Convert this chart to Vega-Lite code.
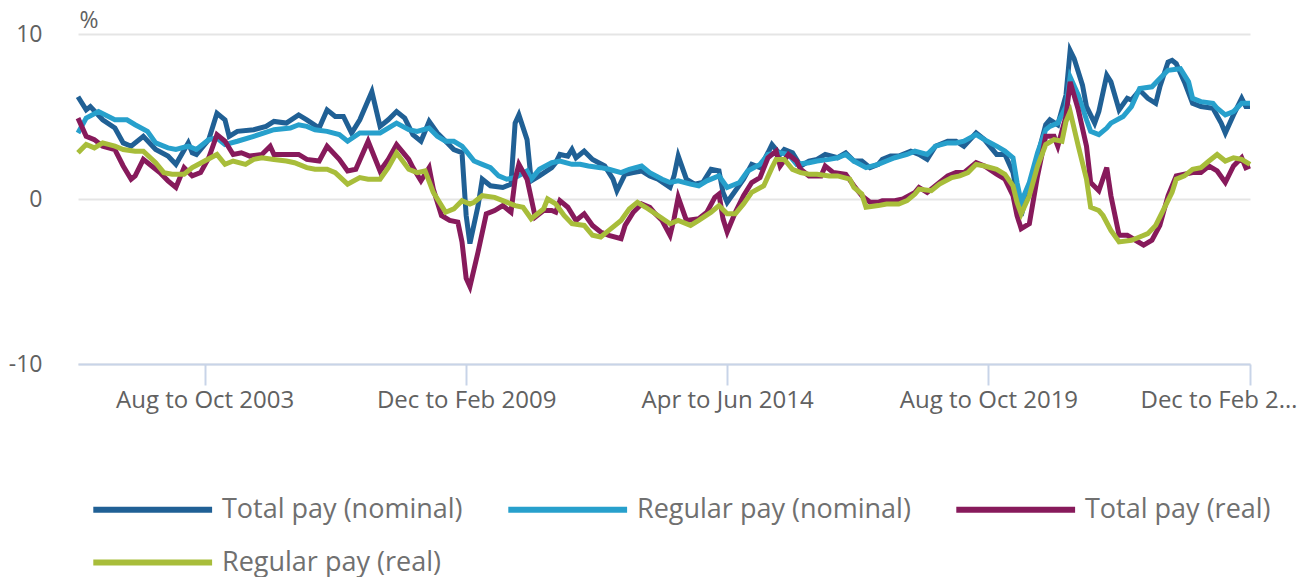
{
  "$schema": "https://vega.github.io/schema/vega-lite/v6.json",
  "autosize": {"type": "none"},
  "width": 1172,
  "height": 330,
  "padding": {"left": 78, "top": 34, "right": 57, "bottom": 213},
  "background": "white",
  "config": {"font": "Open Sans", "view": {"stroke": null}},
  "datasets": {
    "total_nominal": [{"d":"2001-03","v":6.2},{"d":"2001-05","v":5.4},{"d":"2001-06","v":5.6},{"d":"2001-09","v":4.8},{"d":"2001-12","v":4.3},{"d":"2002-02","v":3.4},{"d":"2002-04","v":3.2},{"d":"2002-07","v":3.8},{"d":"2002-10","v":3.0},{"d":"2003-01","v":2.6},{"d":"2003-03","v":2.1},{"d":"2003-06","v":3.4},{"d":"2003-07","v":2.8},{"d":"2003-08","v":2.7},{"d":"2003-11","v":3.6},{"d":"2004-01","v":5.2},{"d":"2004-03","v":4.8},{"d":"2004-04","v":3.8},{"d":"2004-06","v":4.1},{"d":"2004-10","v":4.2},{"d":"2005-01","v":4.4},{"d":"2005-03","v":4.7},{"d":"2005-06","v":4.6},{"d":"2005-09","v":5.1},{"d":"2005-11","v":4.8},{"d":"2006-02","v":4.3},{"d":"2006-04","v":5.4},{"d":"2006-06","v":5.0},{"d":"2006-08","v":5.0},{"d":"2006-10","v":4.0},{"d":"2006-12","v":4.8},{"d":"2007-03","v":6.5},{"d":"2007-05","v":4.4},{"d":"2007-07","v":4.8},{"d":"2007-09","v":5.3},{"d":"2007-11","v":4.9},{"d":"2008-01","v":3.9},{"d":"2008-03","v":3.5},{"d":"2008-05","v":4.7},{"d":"2008-07","v":4.0},{"d":"2008-09","v":3.5},{"d":"2008-11","v":3.0},{"d":"2009-01","v":2.8},{"d":"2009-02","v":-1.0},{"d":"2009-03","v":-2.7},{"d":"2009-05","v":-0.4},{"d":"2009-06","v":1.2},{"d":"2009-08","v":0.8},{"d":"2009-11","v":0.7},{"d":"2010-01","v":0.9},{"d":"2010-02","v":4.6},{"d":"2010-03","v":5.1},{"d":"2010-05","v":3.6},{"d":"2010-06","v":1.1},{"d":"2010-08","v":1.4},{"d":"2010-11","v":1.9},{"d":"2010-12","v":2.2},{"d":"2011-01","v":2.7},{"d":"2011-03","v":2.6},{"d":"2011-04","v":3.0},{"d":"2011-05","v":2.5},{"d":"2011-07","v":2.9},{"d":"2011-09","v":2.4},{"d":"2011-12","v":2.0},{"d":"2012-02","v":1.2},{"d":"2012-03","v":0.5},{"d":"2012-05","v":1.5},{"d":"2012-07","v":1.6},{"d":"2012-09","v":1.7},{"d":"2012-11","v":1.4},{"d":"2013-01","v":1.2},{"d":"2013-04","v":0.7},{"d":"2013-05","v":1.4},{"d":"2013-06","v":2.6},{"d":"2013-08","v":1.2},{"d":"2013-10","v":0.9},{"d":"2013-12","v":1.0},{"d":"2014-02","v":1.8},{"d":"2014-04","v":1.7},{"d":"2014-05","v":0.4},{"d":"2014-06","v":-0.2},{"d":"2014-08","v":0.5},{"d":"2014-10","v":1.2},{"d":"2014-12","v":2.1},{"d":"2015-02","v":1.9},{"d":"2015-04","v":2.8},{"d":"2015-05","v":3.3},{"d":"2015-07","v":2.7},{"d":"2015-08","v":3.0},{"d":"2015-10","v":2.8},{"d":"2015-12","v":2.0},{"d":"2016-02","v":2.3},{"d":"2016-04","v":2.4},{"d":"2016-06","v":2.7},{"d":"2016-09","v":2.5},{"d":"2016-11","v":2.8},{"d":"2017-01","v":2.3},{"d":"2017-03","v":2.3},{"d":"2017-05","v":1.9},{"d":"2017-07","v":2.1},{"d":"2017-08","v":2.4},{"d":"2017-10","v":2.6},{"d":"2017-12","v":2.6},{"d":"2018-03","v":2.9},{"d":"2018-05","v":2.7},{"d":"2018-07","v":2.4},{"d":"2018-09","v":3.2},{"d":"2018-12","v":3.5},{"d":"2019-02","v":3.5},{"d":"2019-04","v":3.2},{"d":"2019-07","v":4.0},{"d":"2019-09","v":3.6},{"d":"2019-12","v":2.7},{"d":"2020-02","v":2.7},{"d":"2020-04","v":1.6},{"d":"2020-06","v":-1.0},{"d":"2020-08","v":0.8},{"d":"2020-10","v":2.6},{"d":"2020-12","v":4.5},{"d":"2021-01","v":4.8},{"d":"2021-03","v":4.5},{"d":"2021-05","v":6.3},{"d":"2021-06","v":9.0},{"d":"2021-07","v":8.5},{"d":"2021-09","v":6.9},{"d":"2021-10","v":5.6},{"d":"2021-12","v":4.6},{"d":"2022-01","v":5.3},{"d":"2022-03","v":7.5},{"d":"2022-04","v":7.1},{"d":"2022-06","v":5.4},{"d":"2022-08","v":6.1},{"d":"2022-09","v":6.0},{"d":"2022-11","v":6.6},{"d":"2023-01","v":6.1},{"d":"2023-03","v":5.8},{"d":"2023-04","v":6.8},{"d":"2023-06","v":8.3},{"d":"2023-07","v":8.4},{"d":"2023-08","v":8.2},{"d":"2023-10","v":7.1},{"d":"2023-12","v":5.8},{"d":"2024-02","v":5.6},{"d":"2024-05","v":5.5},{"d":"2024-07","v":4.6},{"d":"2024-08","v":4.0},{"d":"2024-10","v":5.1},{"d":"2024-12","v":6.1},{"d":"2025-01","v":5.6},{"d":"2025-02","v":5.6}],
    "regular_nominal": [{"d":"2001-03","v":4.0},{"d":"2001-05","v":4.9},{"d":"2001-08","v":5.3},{"d":"2001-12","v":4.8},{"d":"2002-03","v":4.8},{"d":"2002-05","v":4.5},{"d":"2002-08","v":4.1},{"d":"2002-10","v":3.4},{"d":"2003-01","v":3.1},{"d":"2003-03","v":3.0},{"d":"2003-06","v":3.2},{"d":"2003-08","v":3.0},{"d":"2003-11","v":3.6},{"d":"2004-01","v":3.7},{"d":"2004-03","v":3.3},{"d":"2004-06","v":3.5},{"d":"2004-10","v":3.8},{"d":"2005-03","v":4.2},{"d":"2005-07","v":4.3},{"d":"2005-09","v":4.5},{"d":"2005-11","v":4.4},{"d":"2006-01","v":4.2},{"d":"2006-04","v":4.1},{"d":"2006-07","v":3.9},{"d":"2006-09","v":3.5},{"d":"2006-12","v":4.0},{"d":"2007-02","v":4.0},{"d":"2007-05","v":4.0},{"d":"2007-07","v":4.3},{"d":"2007-09","v":4.6},{"d":"2007-12","v":4.2},{"d":"2008-02","v":4.1},{"d":"2008-05","v":4.3},{"d":"2008-07","v":3.8},{"d":"2008-09","v":3.5},{"d":"2008-11","v":3.5},{"d":"2009-01","v":3.2},{"d":"2009-02","v":2.9},{"d":"2009-04","v":2.3},{"d":"2009-06","v":2.1},{"d":"2009-08","v":1.9},{"d":"2009-10","v":1.4},{"d":"2009-12","v":1.2},{"d":"2010-02","v":1.3},{"d":"2010-05","v":1.7},{"d":"2010-06","v":1.2},{"d":"2010-08","v":1.8},{"d":"2010-11","v":2.2},{"d":"2011-01","v":2.3},{"d":"2011-04","v":2.1},{"d":"2011-06","v":2.1},{"d":"2011-08","v":2.0},{"d":"2011-11","v":1.9},{"d":"2012-01","v":1.8},{"d":"2012-04","v":1.6},{"d":"2012-06","v":1.8},{"d":"2012-09","v":2.0},{"d":"2012-11","v":1.6},{"d":"2013-02","v":1.2},{"d":"2013-04","v":1.0},{"d":"2013-06","v":1.1},{"d":"2013-09","v":0.9},{"d":"2013-11","v":0.8},{"d":"2014-01","v":1.1},{"d":"2014-04","v":1.4},{"d":"2014-06","v":0.7},{"d":"2014-09","v":1.0},{"d":"2014-11","v":1.7},{"d":"2015-02","v":2.1},{"d":"2015-04","v":2.7},{"d":"2015-07","v":2.8},{"d":"2015-09","v":2.7},{"d":"2015-11","v":2.1},{"d":"2016-02","v":2.2},{"d":"2016-04","v":2.3},{"d":"2016-07","v":2.4},{"d":"2016-09","v":2.5},{"d":"2016-11","v":2.7},{"d":"2017-01","v":2.3},{"d":"2017-04","v":1.9},{"d":"2017-07","v":2.1},{"d":"2017-09","v":2.3},{"d":"2017-11","v":2.5},{"d":"2018-02","v":2.7},{"d":"2018-04","v":2.9},{"d":"2018-07","v":2.7},{"d":"2018-09","v":3.2},{"d":"2018-12","v":3.4},{"d":"2019-02","v":3.4},{"d":"2019-04","v":3.5},{"d":"2019-07","v":3.9},{"d":"2019-09","v":3.6},{"d":"2019-12","v":3.2},{"d":"2020-02","v":2.9},{"d":"2020-04","v":2.5},{"d":"2020-05","v":1.0},{"d":"2020-06","v":-0.2},{"d":"2020-08","v":1.0},{"d":"2020-10","v":2.8},{"d":"2020-12","v":4.2},{"d":"2021-01","v":4.4},{"d":"2021-03","v":4.6},{"d":"2021-05","v":5.6},{"d":"2021-06","v":7.4},{"d":"2021-08","v":6.3},{"d":"2021-10","v":4.8},{"d":"2021-11","v":4.1},{"d":"2022-01","v":3.9},{"d":"2022-03","v":4.3},{"d":"2022-04","v":4.6},{"d":"2022-07","v":5.0},{"d":"2022-09","v":5.6},{"d":"2022-11","v":6.7},{"d":"2023-02","v":6.8},{"d":"2023-04","v":7.3},{"d":"2023-06","v":7.8},{"d":"2023-09","v":7.9},{"d":"2023-11","v":7.1},{"d":"2023-12","v":6.1},{"d":"2024-02","v":5.9},{"d":"2024-05","v":5.8},{"d":"2024-06","v":5.5},{"d":"2024-08","v":5.1},{"d":"2024-10","v":5.3},{"d":"2024-12","v":5.8},{"d":"2025-02","v":5.8}],
    "total_real": [{"d":"2001-03","v":4.9},{"d":"2001-05","v":3.8},{"d":"2001-07","v":3.6},{"d":"2001-09","v":3.2},{"d":"2001-12","v":3.0},{"d":"2002-02","v":2.0},{"d":"2002-04","v":1.2},{"d":"2002-05","v":1.4},{"d":"2002-07","v":2.4},{"d":"2002-09","v":2.0},{"d":"2002-11","v":1.6},{"d":"2003-01","v":1.1},{"d":"2003-03","v":0.7},{"d":"2003-05","v":1.9},{"d":"2003-07","v":1.4},{"d":"2003-09","v":1.6},{"d":"2003-11","v":2.5},{"d":"2004-01","v":3.9},{"d":"2004-03","v":3.5},{"d":"2004-05","v":2.7},{"d":"2004-07","v":2.8},{"d":"2004-09","v":2.6},{"d":"2004-12","v":2.7},{"d":"2005-02","v":3.2},{"d":"2005-03","v":2.7},{"d":"2005-05","v":2.7},{"d":"2005-07","v":2.7},{"d":"2005-09","v":2.7},{"d":"2005-11","v":2.4},{"d":"2006-02","v":2.3},{"d":"2006-04","v":3.2},{"d":"2006-07","v":2.4},{"d":"2006-09","v":1.7},{"d":"2006-11","v":1.8},{"d":"2007-02","v":3.5},{"d":"2007-05","v":1.7},{"d":"2007-07","v":2.4},{"d":"2007-09","v":3.3},{"d":"2007-12","v":2.4},{"d":"2008-01","v":1.9},{"d":"2008-03","v":1.1},{"d":"2008-05","v":1.9},{"d":"2008-06","v":0.6},{"d":"2008-08","v":-1.0},{"d":"2008-10","v":-1.3},{"d":"2008-12","v":-1.4},{"d":"2009-01","v":-2.6},{"d":"2009-02","v":-4.8},{"d":"2009-03","v":-5.3},{"d":"2009-05","v":-3.2},{"d":"2009-07","v":-0.9},{"d":"2009-09","v":-0.7},{"d":"2009-11","v":-0.4},{"d":"2010-01","v":-0.8},{"d":"2010-02","v":1.2},{"d":"2010-03","v":2.1},{"d":"2010-05","v":1.2},{"d":"2010-07","v":-1.1},{"d":"2010-09","v":-0.7},{"d":"2010-11","v":-0.7},{"d":"2010-12","v":-0.8},{"d":"2011-01","v":-0.1},{"d":"2011-03","v":-0.5},{"d":"2011-05","v":-1.3},{"d":"2011-07","v":-0.9},{"d":"2011-09","v":-1.6},{"d":"2011-11","v":-2.0},{"d":"2012-01","v":-2.2},{"d":"2012-04","v":-2.4},{"d":"2012-05","v":-1.6},{"d":"2012-07","v":-0.8},{"d":"2012-09","v":-0.3},{"d":"2012-11","v":-0.5},{"d":"2012-12","v":-0.8},{"d":"2013-02","v":-1.3},{"d":"2013-04","v":-2.2},{"d":"2013-05","v":-1.2},{"d":"2013-06","v":0.1},{"d":"2013-08","v":-1.3},{"d":"2013-11","v":-1.2},{"d":"2014-01","v":-0.8},{"d":"2014-03","v":0.1},{"d":"2014-04","v":0.3},{"d":"2014-05","v":-1.2},{"d":"2014-06","v":-2.0},{"d":"2014-08","v":-0.8},{"d":"2014-10","v":0.2},{"d":"2014-12","v":1.0},{"d":"2015-02","v":1.3},{"d":"2015-04","v":2.5},{"d":"2015-06","v":2.9},{"d":"2015-07","v":2.0},{"d":"2015-09","v":2.7},{"d":"2015-11","v":2.3},{"d":"2015-12","v":1.8},{"d":"2016-02","v":1.4},{"d":"2016-05","v":1.4},{"d":"2016-06","v":2.0},{"d":"2016-08","v":1.6},{"d":"2016-11","v":1.5},{"d":"2017-01","v":0.8},{"d":"2017-03","v":0.2},{"d":"2017-05","v":-0.2},{"d":"2017-07","v":-0.2},{"d":"2017-08","v":-0.1},{"d":"2017-11","v":-0.1},{"d":"2018-01","v":0.0},{"d":"2018-04","v":0.4},{"d":"2018-05","v":0.7},{"d":"2018-07","v":0.4},{"d":"2018-10","v":1.0},{"d":"2018-12","v":1.4},{"d":"2019-02","v":1.6},{"d":"2019-04","v":1.6},{"d":"2019-07","v":2.2},{"d":"2019-09","v":2.0},{"d":"2019-12","v":1.5},{"d":"2020-02","v":1.2},{"d":"2020-04","v":0.2},{"d":"2020-05","v":-1.0},{"d":"2020-06","v":-1.8},{"d":"2020-08","v":-1.5},{"d":"2020-10","v":1.4},{"d":"2020-12","v":3.8},{"d":"2021-02","v":3.8},{"d":"2021-03","v":3.2},{"d":"2021-05","v":5.0},{"d":"2021-06","v":7.1},{"d":"2021-08","v":5.4},{"d":"2021-10","v":3.2},{"d":"2021-11","v":1.0},{"d":"2022-01","v":0.5},{"d":"2022-03","v":1.9},{"d":"2022-04","v":0.2},{"d":"2022-06","v":-2.2},{"d":"2022-08","v":-2.2},{"d":"2022-10","v":-2.5},{"d":"2022-12","v":-2.8},{"d":"2023-02","v":-2.5},{"d":"2023-04","v":-1.6},{"d":"2023-06","v":0.2},{"d":"2023-08","v":1.4},{"d":"2023-10","v":1.5},{"d":"2023-12","v":1.6},{"d":"2024-02","v":1.6},{"d":"2024-04","v":2.0},{"d":"2024-06","v":1.7},{"d":"2024-08","v":1.0},{"d":"2024-10","v":2.0},{"d":"2024-12","v":2.5},{"d":"2025-01","v":1.9},{"d":"2025-02","v":2.0}],
    "regular_real": [{"d":"2001-03","v":2.8},{"d":"2001-05","v":3.3},{"d":"2001-07","v":3.1},{"d":"2001-09","v":3.4},{"d":"2001-12","v":3.2},{"d":"2002-02","v":3.0},{"d":"2002-05","v":2.9},{"d":"2002-07","v":2.9},{"d":"2002-10","v":2.2},{"d":"2002-12","v":1.6},{"d":"2003-02","v":1.5},{"d":"2003-05","v":1.5},{"d":"2003-07","v":1.9},{"d":"2003-10","v":2.3},{"d":"2004-01","v":2.7},{"d":"2004-03","v":2.1},{"d":"2004-05","v":2.3},{"d":"2004-08","v":2.1},{"d":"2004-10","v":2.4},{"d":"2004-12","v":2.5},{"d":"2005-03","v":2.4},{"d":"2005-06","v":2.3},{"d":"2005-08","v":2.2},{"d":"2005-11","v":1.9},{"d":"2006-01","v":1.8},{"d":"2006-04","v":1.8},{"d":"2006-06","v":1.6},{"d":"2006-09","v":0.9},{"d":"2006-12","v":1.3},{"d":"2007-02","v":1.2},{"d":"2007-05","v":1.2},{"d":"2007-07","v":1.9},{"d":"2007-09","v":2.8},{"d":"2007-12","v":1.8},{"d":"2008-02","v":1.6},{"d":"2008-04","v":1.7},{"d":"2008-06","v":0.4},{"d":"2008-09","v":-0.8},{"d":"2008-11","v":-0.6},{"d":"2009-01","v":-0.1},{"d":"2009-03","v":-0.3},{"d":"2009-04","v":-0.2},{"d":"2009-06","v":0.2},{"d":"2009-09","v":0.1},{"d":"2009-11","v":-0.1},{"d":"2010-02","v":-0.4},{"d":"2010-04","v":-0.5},{"d":"2010-06","v":-1.2},{"d":"2010-09","v":-0.6},{"d":"2010-10","v":0.0},{"d":"2010-12","v":-0.3},{"d":"2011-02","v":-1.0},{"d":"2011-04","v":-1.5},{"d":"2011-07","v":-1.6},{"d":"2011-09","v":-2.2},{"d":"2011-11","v":-2.3},{"d":"2012-01","v":-1.9},{"d":"2012-04","v":-1.3},{"d":"2012-06","v":-0.6},{"d":"2012-08","v":-0.2},{"d":"2012-10","v":-0.5},{"d":"2013-01","v":-1.0},{"d":"2013-04","v":-1.5},{"d":"2013-06","v":-1.3},{"d":"2013-09","v":-1.6},{"d":"2013-11","v":-1.3},{"d":"2014-02","v":-0.8},{"d":"2014-04","v":-0.4},{"d":"2014-06","v":-0.9},{"d":"2014-08","v":-0.9},{"d":"2014-10","v":-0.3},{"d":"2014-12","v":0.4},{"d":"2015-03","v":0.8},{"d":"2015-05","v":1.9},{"d":"2015-06","v":2.4},{"d":"2015-08","v":2.4},{"d":"2015-10","v":1.8},{"d":"2015-12","v":1.6},{"d":"2016-02","v":1.5},{"d":"2016-04","v":1.5},{"d":"2016-07","v":1.4},{"d":"2016-09","v":1.4},{"d":"2016-12","v":1.2},{"d":"2017-01","v":0.7},{"d":"2017-03","v":0.3},{"d":"2017-04","v":-0.5},{"d":"2017-07","v":-0.4},{"d":"2017-09","v":-0.3},{"d":"2017-12","v":-0.3},{"d":"2018-02","v":-0.1},{"d":"2018-04","v":0.3},{"d":"2018-05","v":0.6},{"d":"2018-08","v":0.5},{"d":"2018-10","v":0.9},{"d":"2019-01","v":1.3},{"d":"2019-03","v":1.4},{"d":"2019-05","v":1.6},{"d":"2019-07","v":2.1},{"d":"2019-09","v":2.0},{"d":"2019-12","v":1.8},{"d":"2020-02","v":1.5},{"d":"2020-04","v":0.8},{"d":"2020-05","v":-0.2},{"d":"2020-06","v":-0.9},{"d":"2020-08","v":0.2},{"d":"2020-10","v":2.0},{"d":"2020-12","v":3.3},{"d":"2021-02","v":3.6},{"d":"2021-04","v":3.5},{"d":"2021-05","v":4.7},{"d":"2021-06","v":5.3},{"d":"2021-08","v":3.2},{"d":"2021-10","v":1.2},{"d":"2021-11","v":-0.5},{"d":"2022-01","v":-0.7},{"d":"2022-02","v":-1.0},{"d":"2022-04","v":-1.9},{"d":"2022-06","v":-2.6},{"d":"2022-09","v":-2.5},{"d":"2022-11","v":-2.3},{"d":"2023-01","v":-2.1},{"d":"2023-03","v":-1.6},{"d":"2023-05","v":-0.6},{"d":"2023-07","v":0.4},{"d":"2023-08","v":1.2},{"d":"2023-10","v":1.4},{"d":"2023-12","v":1.8},{"d":"2024-02","v":1.9},{"d":"2024-04","v":2.3},{"d":"2024-06","v":2.7},{"d":"2024-08","v":2.3},{"d":"2024-10","v":2.5},{"d":"2024-12","v":2.4},{"d":"2025-02","v":2.1}]
  },
  "encoding": {
    "x": {
      "field": "d",
      "type": "temporal",
      "scale": {"type": "utc", "domain": [{"year": 2001, "month": 3, "date": 1, "utc": true}, {"year": 2025, "month": 2, "date": 1, "utc": true}]},
      "axis": {
        "values": [{"year": 2003, "month": 10, "date": 1, "utc": true}, {"year": 2009, "month": 2, "date": 1, "utc": true}, {"year": 2014, "month": 6, "date": 1, "utc": true}, {"year": 2019, "month": 10, "date": 1, "utc": true}, {"year": 2025, "month": 2, "date": 1, "utc": true}],
        "labelExpr": "utcyear(datum.value) == 2025 ? 'Dec to Feb 2…' : ['Nov to Jan','Dec to Feb','Jan to Mar','Feb to Apr','Mar to May','Apr to Jun','May to Jul','Jun to Aug','Jul to Sep','Aug to Oct','Sep to Nov','Oct to Dec'][utcmonth(datum.value)] + ' ' + utcyear(datum.value)",
        "title": null,
        "grid": false,
        "domainColor": "#c8d4e8",
        "domainWidth": 2,
        "tickColor": "#c8d4e8",
        "tickWidth": 2,
        "tickSize": 21,
        "labelFont": "Open Sans",
        "labelFontSize": 24,
        "labelColor": "#616161",
        "labelPadding": 3,
        "labelFlush": true,
        "labelFlushOffset": 47,
        "labelOverlap": false,
        "labelBound": false,
        "labelLimit": 400
      }
    },
    "y": {
      "field": "v",
      "type": "quantitative",
      "scale": {"domain": [-10, 10], "nice": false, "zero": false},
      "axis": {
        "values": [-10, 0, 10],
        "labelExpr": "'' + datum.value",
        "title": "%",
        "titleAngle": 0,
        "titleAlign": "left",
        "titleBaseline": "alphabetic",
        "titleX": 1,
        "titleY": -7,
        "titleFont": "Open Sans",
        "titleFontSize": 23,
        "titleFontWeight": "normal",
        "titleColor": "#616161",
        "domain": false,
        "ticks": false,
        "labelPadding": 36,
        "labelFont": "Open Sans",
        "labelFontSize": 23,
        "labelColor": "#616161",
        "gridColor": "#e5e5e5",
        "gridWidth": 2
      }
    }
  },
  "layer": [
    {
      "data": {"name": "total_nominal"},
      "mark": {"type": "line", "strokeWidth": 5},
      "encoding": {
        "color": {
          "datum": "Total pay (nominal)",
          "type": "nominal",
          "scale": {"domain": ["Total pay (nominal)", "Regular pay (nominal)", "Total pay (real)", "Regular pay (real)"], "range": ["#206095", "#27a0cc", "#871a5b", "#a8bd3a"]},
          "legend": {
            "title": null,
            "orient": "none",
            "legendX": 15,
            "legendY": 459,
            "direction": "horizontal",
            "columns": 3,
            "padding": 0,
            "symbolType": "M-1.2,0H7.6",
            "symbolSize": 729,
            "symbolStrokeWidth": 6,
            "symbolFillColor": "transparent",
            "labelFont": "Open Sans",
            "labelFontSize": 27,
            "labelColor": "#707070",
            "labelOffset": 96,
            "labelLimit": 500,
            "columnPadding": 33,
            "rowPadding": 23
          }
        }
      }
    },
    {
      "data": {"name": "regular_nominal"},
      "mark": {"type": "line", "strokeWidth": 5},
      "encoding": {"color": {"datum": "Regular pay (nominal)", "type": "nominal"}}
    },
    {
      "data": {"name": "total_real"},
      "mark": {"type": "line", "strokeWidth": 5},
      "encoding": {"color": {"datum": "Total pay (real)", "type": "nominal"}}
    },
    {
      "data": {"name": "regular_real"},
      "mark": {"type": "line", "strokeWidth": 5},
      "encoding": {"color": {"datum": "Regular pay (real)", "type": "nominal"}}
    }
  ]
}
